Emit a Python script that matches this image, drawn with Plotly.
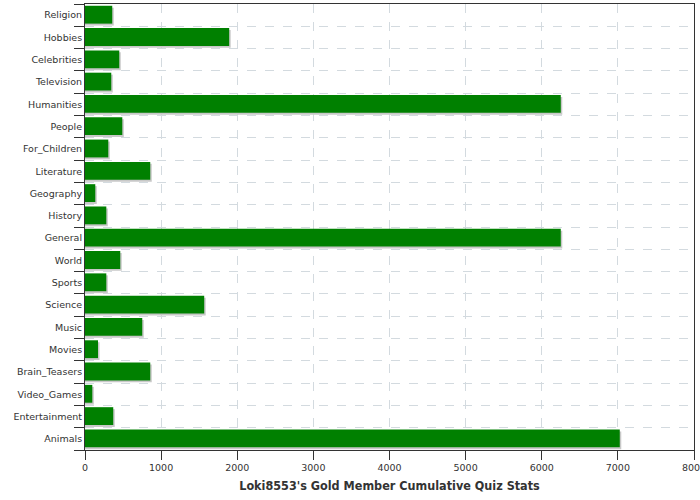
import plotly.graph_objects as go

categories = ["Religion", "Hobbies", "Celebrities", "Television", "Humanities", "People",
              "For_Children", "Literature", "Geography", "History", "General", "World",
              "Sports", "Science", "Music", "Movies", "Brain_Teasers", "Video_Games",
              "Entertainment", "Animals"]
values = [358, 1894, 450, 345, 6250, 490, 306, 857, 135, 280, 6250, 463, 280, 1566,
          752, 171, 857, 96, 371, 7025]
x_ticks = [0, 1000, 2000, 3000, 4000, 5000, 6000, 7000, 8000]
title_text = "Loki8553's Gold Member Cumulative Quiz Stats"

# bottom-to-top order for plotly
cats_bt = categories[::-1]
vals_bt = values[::-1]

px_per_unit = 610 / 8000.0
shadow_dx = 1.5 / px_per_unit
row_px = 446 / len(categories)
shadow_dy = 1.5 / row_px

fig = go.Figure()
fig.add_trace(go.Bar(
    y=cats_bt, x=[v + shadow_dx for v in vals_bt], orientation="h",
    width=0.8, offset=-0.4 - shadow_dy,
    marker=dict(color="#c8c8c8", line=dict(width=0)),
    hoverinfo="skip", showlegend=False,
))
fig.add_trace(go.Bar(
    y=cats_bt, x=vals_bt, orientation="h",
    width=0.8, offset=-0.38,
    marker=dict(color="#008000", line=dict(width=0)),
    showlegend=False,
))

axis_font = dict(family="DejaVu Sans", size=9.5, color="#333333")
fig.update_layout(
    width=700, height=500,
    margin=dict(l=85, r=6, t=4, b=50, autoexpand=False),
    paper_bgcolor="white", plot_bgcolor="white",
    barmode="overlay",
    xaxis=dict(
        range=[0, 8000], tickvals=x_ticks, ticktext=[str(t) for t in x_ticks],
        ticks="outside", ticklen=9, tickcolor="#333333", tickwidth=1,
        showline=True, linecolor="#333333", linewidth=1, mirror=True,
        showgrid=True, gridcolor="#d3dadf", griddash="dash", gridwidth=1,
        zeroline=False, tickfont=axis_font, automargin=False,
        ticklabeloverflow="allow",
        title=dict(text="<b>" + title_text + "</b>",
                   font=dict(family="DejaVu Sans Condensed", size=12.5, color="#333333"),
                   standoff=8),
    ),
    yaxis=dict(
        type="category", categoryorder="array", categoryarray=cats_bt,
        tickson="boundaries", ticks="outside", ticklen=10, tickcolor="#333333", tickwidth=1,
        showline=True, linecolor="#333333", linewidth=1, mirror=True,
        showgrid=True, gridcolor="#d3dadf", griddash="dash", gridwidth=1,
        zeroline=False, tickfont=axis_font, automargin=False,
        range=[-0.5, len(categories) - 0.5],
    ),
)

fig.write_html("out.html", config={"displayModeBar": False},
               post_script="document.body.style.margin='0';")
